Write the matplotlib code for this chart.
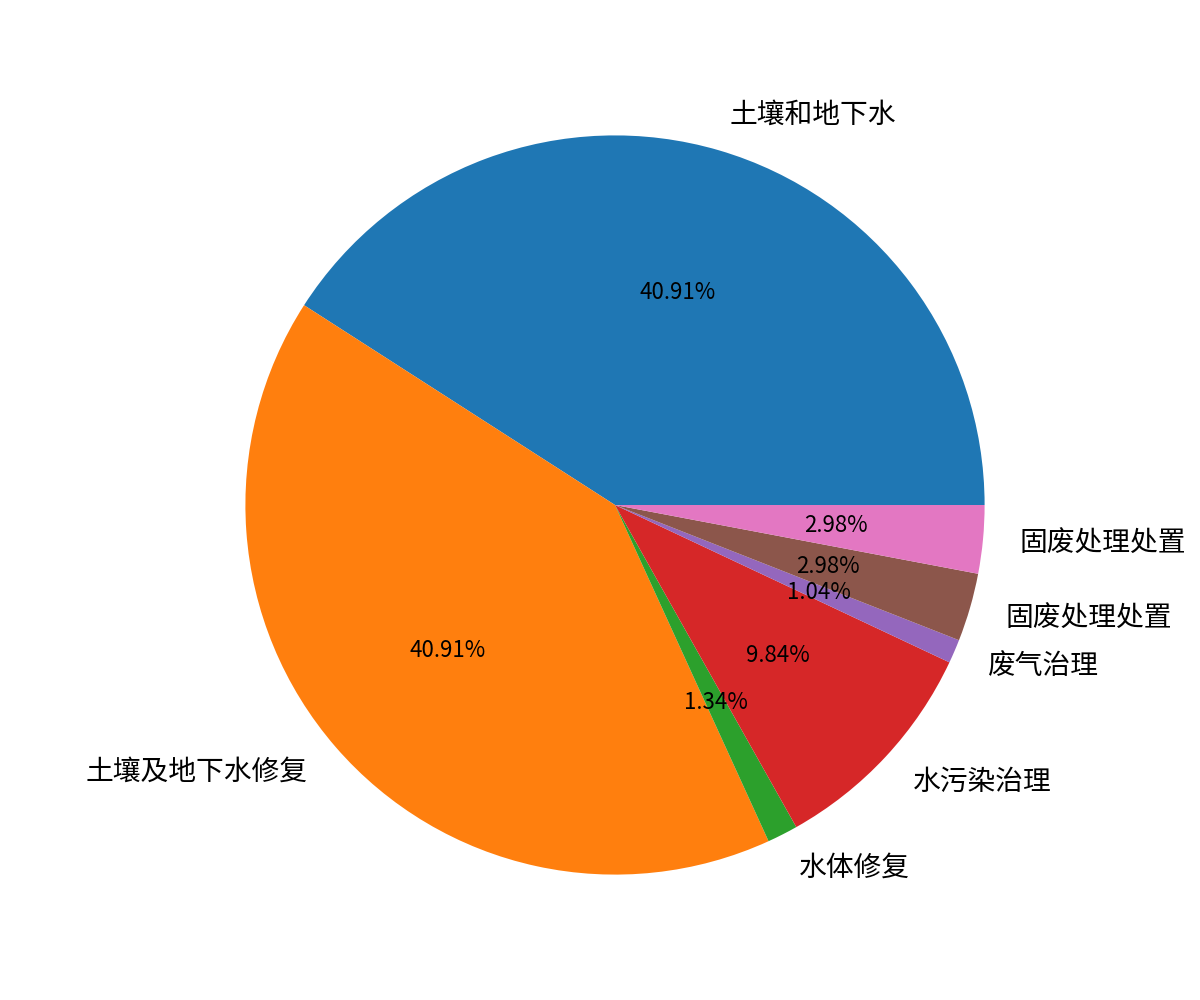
import matplotlib
matplotlib.use("Agg")
import matplotlib.pyplot as plt

plt.rcParams['font.family'] = ['Noto Sans CJK SC', 'DejaVu Sans']

labels = ['土壤和地下水', '土壤及地下水修复', '水体修复', '水污染治理', '废气治理', '固废处理处置', '固废处理处置']
shares = [40.91, 40.91, 1.34, 9.84, 1.04, 2.98, 2.98]

fig = plt.figure(figsize=(12, 10), dpi=100)
wedges, texts, autotexts = plt.pie(shares, labels=labels, autopct='%1.2f%%',
                                   radius=1.2, textprops={'fontsize': 20})
for t in autotexts:
    t.set_fontsize(16)
plt.savefig('out.png')
